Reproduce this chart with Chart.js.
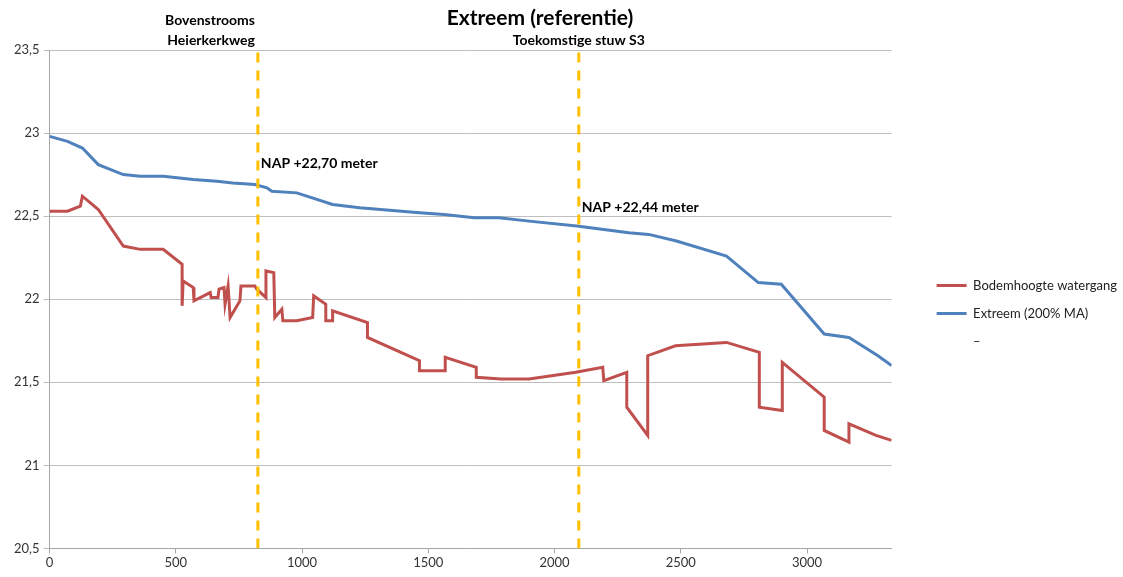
<!DOCTYPE html>
<html>
<head>
<meta charset="utf-8">
<script src="https://cdn.jsdelivr.net/npm/chart.js@4.4.1/dist/chart.umd.min.js"></script>
<style>
  html, body { margin: 0; padding: 0; background: #fff; }
  #wrap { width: 1123px; height: 577px; }
</style>
</head>
<body>
<div id="wrap"><canvas id="myChart" width="1123" height="577"></canvas></div>
<script>
// afstand (m) en hoogte (m NAP)
const bodemX = [0, 71, 122, 130, 193, 292, 359, 450, 525, 525, 529, 569, 572, 636, 640, 667, 671, 691, 695, 707, 715, 754, 758, 813, 821, 857, 857, 888, 892, 920, 924, 979, 1042, 1046, 1094, 1094, 1121, 1121, 1259, 1259, 1465, 1465, 1567, 1567, 1690, 1690, 1788, 1899, 2084, 2191, 2195, 2286, 2286, 2369, 2369, 2479, 2681, 2811, 2811, 2902, 2902, 3068, 3068, 3166, 3166, 3273, 3335];
const bodemY = [22.53, 22.53, 22.56, 22.62, 22.54, 22.32, 22.30, 22.30, 22.21, 21.96, 22.11, 22.07, 21.99, 22.04, 22.01, 22.01, 22.06, 22.07, 21.97, 22.08, 21.89, 21.99, 22.08, 22.08, 22.06, 22.01, 22.17, 22.16, 21.89, 21.94, 21.87, 21.87, 21.89, 22.02, 21.97, 21.87, 21.87, 21.93, 21.86, 21.77, 21.63, 21.57, 21.57, 21.65, 21.59, 21.53, 21.52, 21.52, 21.56, 21.59, 21.51, 21.56, 21.35, 21.18, 21.66, 21.72, 21.74, 21.68, 21.35, 21.33, 21.62, 21.41, 21.21, 21.14, 21.25, 21.18, 21.15];

const extreemX = [0, 71, 130, 193, 292, 359, 450, 569, 663, 726, 813, 861, 880, 979, 1121, 1228, 1465, 1563, 1682, 1780, 1899, 2088, 2294, 2373, 2483, 2681, 2807, 2898, 3068, 3166, 3281, 3335];
const extreemY = [22.98, 22.95, 22.91, 22.81, 22.75, 22.74, 22.74, 22.72, 22.71, 22.70, 22.69, 22.67, 22.65, 22.64, 22.57, 22.55, 22.52, 22.51, 22.49, 22.49, 22.47, 22.44, 22.40, 22.39, 22.35, 22.26, 22.10, 22.09, 21.79, 21.77, 21.66, 21.60];

const markerX = [825, 2096];
const markerLevel = [22.70, 22.44];
const markerTitle = [["Bovenstrooms", "Heierkerkweg"], ["Toekomstige stuw S3"]];

const xTicks = [0, 500, 1000, 1500, 2000, 2500, 3000];
const yTicks = [20.5, 21, 21.5, 22, 22.5, 23, 23.5];
const xMax = 3335;

const toPoints = (xs, ys) => xs.map((x, i) => ({ x: x, y: ys[i] }));
const yMin = yTicks[0];
const yMax = yTicks[yTicks.length - 1];

Chart.defaults.font.family = "Lato";

// titel en teksten bij de stippellijnen
const tekstPlugin = {
  id: "tekstPlugin",
  afterDraw(chart) {
    const { ctx, scales } = chart;
    const x = scales.x, y = scales.y;
    ctx.save();
    ctx.fillStyle = "#000";
    ctx.textBaseline = "middle";

    ctx.font = "bold 21px Lato";
    ctx.textAlign = "center";
    ctx.fillText("Extreem (referentie)", 540, 18);

    ctx.font = "bold 14px Lato";
    // links: rechts uitgelijnd tegen de lijn
    ctx.textAlign = "right";
    ctx.fillText(markerTitle[0][0], x.getPixelForValue(markerX[0]) - 3, 20);
    ctx.fillText(markerTitle[0][1], x.getPixelForValue(markerX[0]) - 3, 40);
    ctx.textAlign = "center";
    ctx.fillText(markerTitle[1][0], x.getPixelForValue(markerX[1]), 40);

    ctx.textAlign = "left";
    markerX.forEach((mx, i) => {
      const label = "NAP +" + markerLevel[i].toFixed(2).replace(".", ",") + " meter";
      ctx.fillText(label, x.getPixelForValue(mx) + 3, y.getPixelForValue(markerLevel[i]) - 19);
    });
    ctx.restore();
  }
};

// legenda wat naar rechts en omlaag
const legendaPlugin = {
  id: "legendaPlugin",
  afterLayout(chart) {
    const lg = chart.legend;
    lg.left = chart.chartArea.right + 30;
    lg.right = chart.width;
    lg.top += 2;
    lg.bottom += 2;
  }
};

const dashLine = (mx) => ({
  label: "stuw",
  data: [{ x: mx, y: yMin }, { x: mx, y: yMax }],
  borderColor: "#FFC000",
  borderWidth: 3,
  borderDash: [10, 8],
  pointRadius: 0,
  order: -1
});

const config = {
  type: "line",
  data: {
    datasets: [
      {
        label: "Bodemhoogte watergang",
        data: toPoints(bodemX, bodemY),
        borderColor: "#C0504D",
        backgroundColor: "#C0504D",
        borderWidth: 3,
        pointRadius: 0,
        tension: 0,
        fill: false
      },
      {
        label: "Extreem (200% MA)",
        data: toPoints(extreemX, extreemY),
        borderColor: "#4F81BD",
        backgroundColor: "#4F81BD",
        borderWidth: 3,
        pointRadius: 0,
        tension: 0,
        fill: false
      },
      {
        label: "\u2013",
        data: [],
        borderColor: "rgba(0,0,0,0)",
        backgroundColor: "rgba(0,0,0,0)",
        borderWidth: 0,
        pointRadius: 0
      },
      dashLine(markerX[0]),
      dashLine(markerX[1])
    ]
  },
  options: {
    responsive: false,
    animation: false,
    layout: { padding: { top: 50, bottom: 4, left: 10, right: 26 } },
    plugins: {
      tooltip: { enabled: false },
      legend: {
        position: "right",
        labels: {
          usePointStyle: true,
          pointStyle: "line",
          pointStyleWidth: 30,
          padding: 15,
          color: "#222",
          font: { size: 13 },
          filter: (item) => item.datasetIndex < 3
        }
      }
    },
    scales: {
      x: {
        type: "linear",
        min: 0,
        max: xMax,
        afterBuildTicks: (scale) => { scale.ticks = xTicks.map((v) => ({ value: v })); },
        grid: { drawOnChartArea: false, drawTicks: true, tickLength: 5, color: "#A6A6A6" },
        border: { color: "#A6A6A6" },
        ticks: { color: "#333", font: { size: 13 }, maxRotation: 0, padding: 2, callback: (v) => String(v) }
      },
      y: {
        min: yMin,
        max: yMax,
        afterBuildTicks: (scale) => { scale.ticks = yTicks.map((v) => ({ value: v })); },
        grid: { color: "#BFBFBF", tickLength: 6 },
        border: { color: "#A6A6A6" },
        ticks: {
          color: "#333",
          font: { size: 13 },
          padding: 4,
          callback: (v) => String(v).replace(".", ",")
        }
      }
    }
  },
  plugins: [tekstPlugin, legendaPlugin]
};

const myChart = new Chart(document.getElementById("myChart"), config);
</script>
</body>
</html>
